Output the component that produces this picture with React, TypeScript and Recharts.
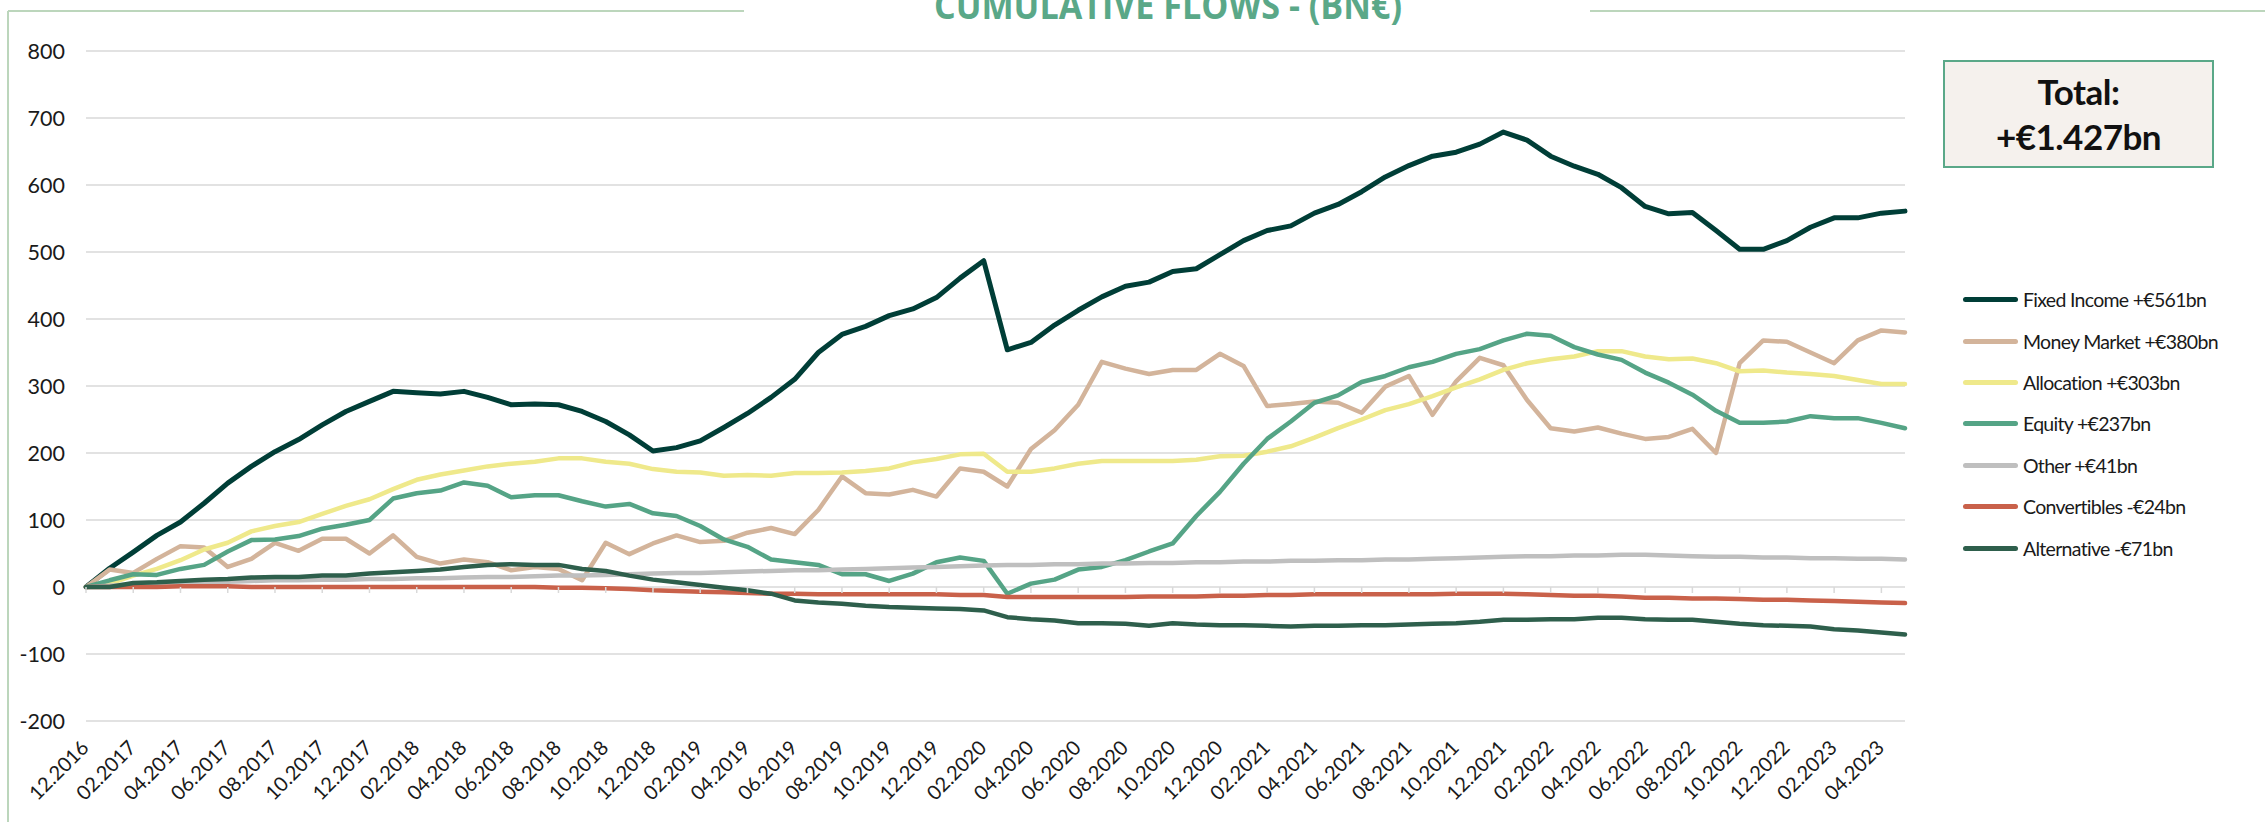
import React from "react";
import { LineChart, Line, XAxis, YAxis, CartesianGrid } from "recharts";

// months, 12.2016 -> 05.2023
const MONTHS = [
  "12.2016",
  "01.2017", "02.2017", "03.2017", "04.2017", "05.2017", "06.2017", "07.2017", "08.2017", "09.2017", "10.2017", "11.2017", "12.2017",
  "01.2018", "02.2018", "03.2018", "04.2018", "05.2018", "06.2018", "07.2018", "08.2018", "09.2018", "10.2018", "11.2018", "12.2018",
  "01.2019", "02.2019", "03.2019", "04.2019", "05.2019", "06.2019", "07.2019", "08.2019", "09.2019", "10.2019", "11.2019", "12.2019",
  "01.2020", "02.2020", "03.2020", "04.2020", "05.2020", "06.2020", "07.2020", "08.2020", "09.2020", "10.2020", "11.2020", "12.2020",
  "01.2021", "02.2021", "03.2021", "04.2021", "05.2021", "06.2021", "07.2021", "08.2021", "09.2021", "10.2021", "11.2021", "12.2021",
  "01.2022", "02.2022", "03.2022", "04.2022", "05.2022", "06.2022", "07.2022", "08.2022", "09.2022", "10.2022", "11.2022", "12.2022",
  "01.2023", "02.2023", "03.2023", "04.2023", "05.2023",
];

const FIXED_INCOME = [
  0, 28, 52, 77, 97, 125, 155, 180, 202, 220, 242, 262, 277,
  292, 290, 288, 292, 283, 272, 273, 272, 262, 247, 227, 203,
  208, 218, 238, 259, 283, 310, 350, 377, 389, 405, 415, 432,
  461, 487, 354, 365, 391, 413, 433, 449, 455, 471, 475, 496,
  517, 532, 539, 558, 571, 590, 612, 629, 643, 649, 661, 679,
  667, 643, 628, 616, 596, 568, 557, 559, 532, 504, 504, 517,
  537, 551, 551, 558, 561,
];

const MONEY_MARKET = [
  0, 26, 21, 42, 61, 59, 30, 42, 66, 54, 72, 72, 50,
  77, 45, 35, 41, 37, 25, 30, 27, 10, 66, 49, 65,
  77, 67, 69, 81, 88, 79, 115, 165, 140, 138, 145, 135,
  177, 172, 150, 206, 234, 272, 336, 326, 318, 324, 324, 348,
  330, 270, 273, 277, 275, 260, 299, 315, 257, 307, 342, 331,
  279, 237, 232, 238, 229, 221, 224, 236, 200, 334, 368, 366,
  350, 334, 368, 383, 380,
];

const ALLOCATION = [
  0, 5, 17, 27, 40, 56, 66, 83, 91, 97, 109, 121, 131,
  146, 160, 168, 174, 180, 184, 187, 192, 192, 187, 184, 176,
  172, 171, 166, 167, 166, 170, 170, 171, 173, 177, 186, 191,
  198, 199, 172, 172, 177, 184, 188, 188, 188, 188, 190, 195,
  196, 202, 210, 223, 237, 250, 264, 273, 285, 298, 310, 324,
  334, 340, 344, 352, 352, 344, 340, 341, 334, 322, 323, 320,
  318, 315, 309, 303, 303,
];

const EQUITY = [
  0, 10, 19, 18, 27, 33, 53, 70, 71, 76, 87, 93, 100,
  132, 140, 144, 156, 151, 134, 137, 137, 128, 120, 124, 110,
  106, 91, 71, 60, 41, 37, 33, 19, 19, 9, 20, 37,
  44, 39, -10, 5, 11, 26, 30, 40, 53, 65, 106, 142,
  184, 221, 247, 275, 286, 306, 315, 328, 336, 348, 355, 368,
  378, 375, 358, 347, 339, 320, 305, 287, 263, 245, 245, 247,
  255, 252, 252, 245, 237,
];

const OTHER = [
  0, 2, 4, 5, 6, 7, 8, 9, 10, 10, 11, 11, 12,
  12, 13, 13, 14, 15, 15, 16, 17, 17, 18, 19, 20,
  21, 21, 22, 23, 24, 25, 25, 26, 27, 28, 29, 30,
  31, 32, 33, 33, 34, 34, 35, 35, 36, 36, 37, 37,
  38, 38, 39, 39, 40, 40, 41, 41, 42, 43, 44, 45,
  46, 46, 47, 47, 48, 48, 47, 46, 45, 45, 44, 44,
  43, 43, 42, 42, 41,
];

const CONVERTIBLES = [
  0, 0, 0, 0, 1, 1, 1, 0, 0, 0, 0, 0, 0,
  0, 0, 0, 0, 0, 0, 0, -1, -1, -2, -3, -5,
  -6, -7, -8, -9, -10, -10, -11, -11, -11, -11, -11, -11,
  -12, -12, -15, -15, -15, -15, -15, -15, -14, -14, -14, -13,
  -13, -12, -12, -11, -11, -11, -11, -11, -11, -10, -10, -10,
  -11, -12, -13, -13, -14, -16, -16, -17, -17, -18, -19, -19,
  -20, -21, -22, -23, -24,
];

const ALTERNATIVE = [
  0, 0, 6, 7, 9, 11, 12, 14, 15, 15, 17, 17, 20,
  22, 24, 26, 30, 33, 34, 33, 33, 27, 24, 17, 11,
  7, 3, -1, -5, -10, -20, -23, -25, -28, -30, -31, -32,
  -33, -35, -45, -48, -50, -54, -54, -55, -58, -54, -56, -57,
  -57, -58, -59, -58, -58, -57, -57, -56, -55, -54, -52, -49,
  -49, -48, -48, -46, -46, -48, -49, -49, -52, -55, -57, -58,
  -59, -63, -65, -68, -71,
];

const Y_TICKS = [-200, -100, 0, 100, 200, 300, 400, 500, 600, 700, 800];

const SERIES = [
  { key: "fixedIncome", name: "Fixed Income +€561bn", color: "#003e37", values: FIXED_INCOME },
  { key: "moneyMarket", name: "Money Market +€380bn", color: "#d3b49b", values: MONEY_MARKET },
  { key: "allocation", name: "Allocation +€303bn", color: "#efe98b", values: ALLOCATION },
  { key: "equity", name: "Equity +€237bn", color: "#55a486", values: EQUITY },
  { key: "other", name: "Other +€41bn", color: "#bfbfbf", values: OTHER },
  { key: "convertibles", name: "Convertibles -€24bn", color: "#c9614a", values: CONVERTIBLES },
  { key: "alternative", name: "Alternative -€71bn", color: "#2e5f4c", values: ALTERNATIVE },
];

const data = MONTHS.map((m, i) => {
  const row: Record<string, string | number> = { month: m };
  SERIES.forEach((s) => {
    row[s.key] = s.values[i];
  });
  return row;
});

const W = 2265;
const H = 822;
const MARGIN = { top: 51, right: 360, bottom: 21, left: 26 };
const Y_AXIS_W = 60;
const X_AXIS_H = 80;
const PLOT_H = H - MARGIN.top - MARGIN.bottom - X_AXIS_H;
const Y_MIN = -200;
const Y_MAX = 800;
const ZERO_Y = MARGIN.top + (PLOT_H * Y_MAX) / (Y_MAX - Y_MIN);

const FONT = "Lato, 'Open Sans', sans-serif";

function MonthTick(props: any) {
  const { x, y, payload } = props;
  const tx = x + 4;
  const ty = y + 28;
  return (
    <g>
      <line x1={x} x2={x} y1={ZERO_Y} y2={ZERO_Y + 6} stroke="#d9d9d9" strokeWidth={1.5} />
      <text
        x={tx}
        y={ty}
        transform={`rotate(-45, ${tx}, ${ty})`}
        textAnchor="end"
        fontSize={20}
        fontFamily={FONT}
        fill="#1a1a1a"
      >
        {payload.value}
      </text>
    </g>
  );
}

export default function App() {
  return (
    <div
      style={{
        position: "absolute",
        left: 0,
        top: 0,
        width: W,
        height: H,
        overflow: "hidden",
        background: "#fff",
        fontFamily: FONT,
      }}
    >
      {/* frame + title */}
      <svg width={W} height={H} style={{ position: "absolute", left: 0, top: 0 }}>
        <line x1={8} y1={11} x2={744} y2={11} stroke="#bcd6bc" strokeWidth={2} />
        <line x1={1590} y1={11} x2={W} y2={11} stroke="#bcd6bc" strokeWidth={2} />
        <line x1={8} y1={11} x2={8} y2={H} stroke="#bcd6bc" strokeWidth={2} />
        <text
          x={1168}
          y={19}
          textAnchor="middle"
          fontSize={38}
          fontWeight="bold"
          fontFamily="'Liberation Sans Narrow', 'Open Sans', sans-serif"
          fill="#5aa888"
          textLength={468}
          lengthAdjust="spacingAndGlyphs"
        >
          CUMULATIVE FLOWS - (BN€)
        </text>
      </svg>

      <div style={{ position: "absolute", left: 0, top: 0 }}>
        <LineChart width={W} height={H} data={data} margin={MARGIN}>
          <CartesianGrid vertical={false} stroke="#d9d9d9" strokeWidth={1.5} />
          <XAxis
            dataKey="month"
            interval={1}
            axisLine={false}
            tickLine={false}
            tickSize={0}
            tickMargin={0}
            height={X_AXIS_H}
            tick={<MonthTick />}
          />
          <YAxis
            domain={[Y_MIN, Y_MAX]}
            ticks={Y_TICKS}
            width={Y_AXIS_W}
            axisLine={false}
            tickLine={false}
            tickSize={0}
            tickMargin={21}
            tick={{ fontSize: 21.5, fill: "#1a1a1a", fontFamily: FONT }}
          />
          {SERIES.map((s) => (
            <Line
              key={s.key}
              type="linear"
              dataKey={s.key}
              name={s.name}
              stroke={s.color}
              strokeWidth={s.key === "fixedIncome" ? 5 : 4.5}
              strokeLinecap="round"
              strokeLinejoin="round"
              dot={false}
              activeDot={false}
              isAnimationActive={false}
            />
          ))}
        </LineChart>
      </div>

      {/* total box */}
      <div
        style={{
          position: "absolute",
          left: 1943,
          top: 60,
          width: 267,
          height: 104,
          border: "2.5px solid #5aa888",
          background: "#f5f1ed",
          display: "flex",
          flexDirection: "column",
          alignItems: "center",
          justifyContent: "center",
          fontWeight: 700,
          fontSize: 35,
          letterSpacing: -0.5,
          lineHeight: "45px",
          color: "#111",
        }}
      >
        <div>Total:</div>
        <div>+€1.427bn</div>
      </div>

      {/* legend */}
      <div style={{ position: "absolute", left: 1963, top: 279 }}>
        {SERIES.map((s) => (
          <div key={s.key} style={{ display: "flex", alignItems: "center", height: 41.4 }}>
            <div style={{ width: 55, height: 5, borderRadius: 3, background: s.color }} />
            <span
              style={{
                marginLeft: 5,
                fontSize: 19.5,
                letterSpacing: -0.7,
                color: "#1a1a1a",
                whiteSpace: "nowrap",
              }}
            >
              {s.name}
            </span>
          </div>
        ))}
      </div>
    </div>
  );
}
